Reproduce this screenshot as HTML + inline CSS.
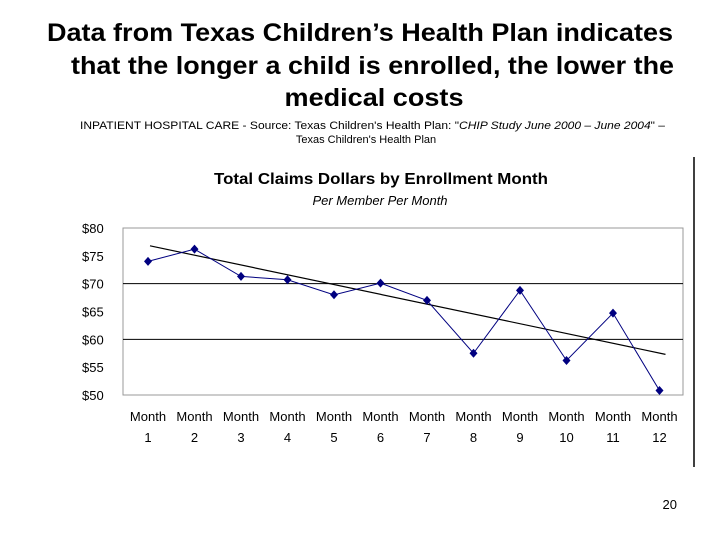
<!DOCTYPE html>
<html><head><meta charset="utf-8"><style>
html,body{margin:0;padding:0;background:#fff;}
svg{display:block;font-family:"Liberation Sans",Arial,sans-serif;}
</style></head><body>
<svg id="chart" width="720" height="540" viewBox="0 0 720 540">
<g font-weight="bold" font-size="25" fill="#000">
<text x="47" y="41" textLength="626" lengthAdjust="spacingAndGlyphs">Data from Texas Children’s Health Plan indicates</text>
<text x="71" y="74" textLength="603" lengthAdjust="spacingAndGlyphs">that the longer a child is enrolled, the lower the</text>
<text x="374" y="106" text-anchor="middle" textLength="179" lengthAdjust="spacingAndGlyphs">medical costs</text>
</g>
<g font-size="11" fill="#000">
<text x="80" y="129" textLength="585" lengthAdjust="spacingAndGlyphs">INPATIENT HOSPITAL CARE - Source: Texas Children's Health Plan: "<tspan font-style="italic">CHIP Study June 2000 – June 2004</tspan>" –</text>
<text x="366" y="143" text-anchor="middle">Texas Children's Health Plan</text>
</g>
<line x1="694" y1="157" x2="694" y2="467" stroke="#000" stroke-width="1.5"/>
<text x="381" y="184" text-anchor="middle" font-size="16" font-weight="bold" textLength="334" lengthAdjust="spacingAndGlyphs">Total Claims Dollars by Enrollment Month</text>
<text x="380" y="205" text-anchor="middle" font-size="13" font-style="italic">Per Member Per Month</text>
<rect x="123" y="228" width="560" height="167" fill="#fff" stroke="#999" stroke-width="1"/>
<g id="grid"></g><g id="yt"></g><g id="xt"></g><g id="series"></g>
<text x="677" y="509" text-anchor="end" font-size="13">20</text>
</svg>
<script>
const categories=["1","2","3","4","5","6","7","8","9","10","11","12"];
const values=[74,76.2,71.3,70.7,68,70.1,67,57.5,68.8,56.2,64.7,50.8];
const trendStartEnd=[76.8,57.3];
const yTicks=[50,55,60,65,70,75,80];
const gridVals=[60,70];
const NS="http://www.w3.org/2000/svg";
const x=i=>148+i*46.5;
const y=v=>395-(v-50)/30*167;
function mk(t,a,p){const e=document.createElementNS(NS,t);for(const k in a)e.setAttribute(k,a[k]);p.appendChild(e);return e;}
const grid=document.getElementById('grid');
gridVals.forEach(v=>{const l=mk('line',{x1:123,x2:683,y1:y(v),y2:y(v),stroke:'#000','stroke-width':1},grid);

});
const yt=document.getElementById('yt');
yTicks.forEach(v=>{const t=mk('text',{x:82,y:y(v)+5,'font-size':13},yt);t.textContent='$'+v;

});
const xt=document.getElementById('xt');
categories.forEach((c,i)=>{const g=mk('g',{'text-anchor':'middle','font-size':13},xt);


mk('text',{x:x(i),y:421},g).textContent='Month';mk('text',{x:x(i),y:442},g).textContent=c;});
const s=document.getElementById('series');
const n=values.length;
const tl=mk('line',{x1:x(0)+2,y1:y(trendStartEnd[0]),x2:x(n-1)+6,y2:y(trendStartEnd[1]),stroke:'#000','stroke-width':1.2},s);


const pl=mk('polyline',{points:values.map((v,i)=>x(i)+','+y(v)).join(' '),fill:'none',stroke:'#000080','stroke-width':1},s);


values.forEach((v,i)=>{const cx=x(i),cy=y(v);
const m=mk('polygon',{points:`${cx},${cy-4.5} ${cx+4},${cy} ${cx},${cy+4.5} ${cx-4},${cy}`,fill:'#000080'},s);

});
</script>
</body></html>
